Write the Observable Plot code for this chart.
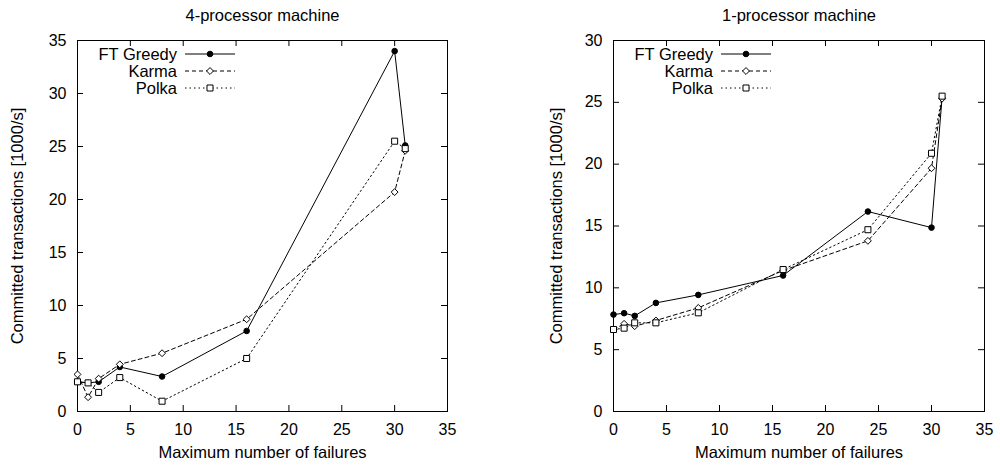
<!DOCTYPE html>
<html>
<head>
<meta charset="utf-8">
<script src="https://cdn.jsdelivr.net/npm/d3@7"></script>
<script src="https://cdn.jsdelivr.net/npm/@observablehq/plot@0.6"></script>
<style>
  html, body { margin: 0; padding: 0; background: #fff; }
  #wrap { position: relative; width: 1000px; height: 468px; }
  .panel { position: absolute; top: 0; }
</style>
</head>
<body>
<div id="wrap">
  <div id="left" class="panel" style="left:0"></div>
  <div id="right" class="panel" style="left:500px"></div>
</div>
<script>
// ---- data ----
const seriesNames = ["FT Greedy", "Karma", "Polka"];
const xTicks = [0, 5, 10, 15, 20, 25, 30, 35];
const yTicks4 = [0, 5, 10, 15, 20, 25, 30, 35];
const yTicks1 = [0, 5, 10, 15, 20, 25, 30];

const titles = ["4-processor machine", "1-processor machine"];
const xLabel = "Maximum number of failures";
const yLabel = "Committed transactions [1000/s]";

// 4-processor machine
const failures4 = [0, 1, 2, 4, 8, 16, 30, 31];
const ftGreedy4 = [2.8, 2.7, 2.8, 4.2, 3.3, 7.6, 34.0, 25.1];
const karma4    = [3.5, 1.35, 3.1, 4.45, 5.5, 8.7, 20.7, 24.6];
const polka4    = [2.8, 2.7, 1.8, 3.2, 0.97, 5.0, 25.5, 24.8];

// 1-processor machine
const failures1 = [0, 1, 2, 4, 8, 16, 24, 30, 31];
const ftGreedy1 = [7.84, 7.95, 7.73, 8.78, 9.43, 11.0, 16.17, 14.87, 25.4];
const karma1    = [6.63, 7.09, 6.9, 7.36, 8.38, 11.4, 13.8, 19.67, 25.3];
const polka1    = [6.63, 6.74, 7.17, 7.17, 7.98, 11.48, 14.7, 20.88, 25.5];

// ---- styles per series ----
const dashes = [null, "4,3", "1.5,3"];
const symbols = ["circle", "diamond2", "square"];
const symbolR = [2.8, 3.1, 3.4];
const symbolFill = ["black", "white", "white"];
const d3Symbols = [d3.symbolCircle, d3.symbolDiamond2, d3.symbolSquare];

const FONT = "'Liberation Sans', Arial, Helvetica, sans-serif";

function table(xs, ys) { return xs.map((x, i) => ({x, y: ys[i]})); }

function panel({title, xs, series, yTicks, yMax, marginLeft, marginRight, yLabelDx}) {
  const W = 500, H = 468, mt = 40, mb = 57;
  const frameH = H - mt - mb;
  const frameW = W - marginLeft - marginRight;
  const tick = 6;
  const marks = [
    Plot.frame({stroke: "black", strokeWidth: 1}),
    // inward ticks on all four sides
    Plot.tickX(xTicks, {x: d => d, insetTop: frameH - tick, stroke: "black"}),
    Plot.tickX(xTicks, {x: d => d, insetBottom: frameH - tick, stroke: "black"}),
    Plot.tickY(yTicks, {y: d => d, insetRight: frameW - tick, stroke: "black"}),
    Plot.tickY(yTicks, {y: d => d, insetLeft: frameW - tick, stroke: "black"}),
    Plot.axisX({ticks: xTicks, tickSize: 0, tickPadding: 12, label: null, tickFormat: d => String(d)}),
    Plot.axisY({ticks: yTicks, tickSize: 0, tickPadding: 11, label: null, tickFormat: d => String(d)}),
    Plot.text([title], {frameAnchor: "top", text: d => d, dy: -25, fontSize: 16.5,
      textAnchor: "middle", lineAnchor: "middle"}),
    Plot.text([xLabel], {frameAnchor: "bottom", text: d => d, dy: 41, fontSize: 16.5,
      textAnchor: "middle", lineAnchor: "middle"}),
    Plot.text([yLabel], {frameAnchor: "left", text: d => d, rotate: -90, dx: yLabelDx, fontSize: 16.5,
      textAnchor: "middle", lineAnchor: "middle"})
  ];
  series.forEach((ys, i) => {
    const data = table(xs, ys);
    marks.push(Plot.line(data, {x: "x", y: "y", stroke: "black", strokeWidth: 1,
      strokeDasharray: dashes[i] || undefined}));
  });
  series.forEach((ys, i) => {
    const data = table(xs, ys);
    marks.push(Plot.dot(data, {x: "x", y: "y", symbol: symbols[i], r: symbolR[i],
      fill: symbolFill[i], stroke: "black", strokeWidth: 1}));
  });
  const svg = Plot.plot({
    width: W, height: H,
    marginLeft, marginRight, marginTop: mt, marginBottom: mb,
    style: {fontFamily: FONT, fontSize: "16px", color: "black", background: "white"},
    x: {domain: [0, 35]},
    y: {domain: [0, yMax]},
    marks
  });
  // in-plot legend (gnuplot style: label, line sample, marker)
  const g = d3.select(svg).append("g").attr("font-family", FONT).attr("font-size", 16.5);
  seriesNames.forEach((name, i) => {
    const y = mt + 14 + 17 * i;
    const x0 = marginLeft + 100;
    g.append("text").attr("x", x0).attr("y", y).attr("dy", "0.35em")
      .attr("text-anchor", "end").attr("fill", "black").text(name);
    const ln = g.append("line").attr("x1", x0 + 8).attr("x2", x0 + 58)
      .attr("y1", y).attr("y2", y).attr("stroke", "black").attr("stroke-width", 1);
    if (dashes[i]) ln.attr("stroke-dasharray", dashes[i]);
    g.append("path").attr("transform", `translate(${x0 + 33},${y})`)
      .attr("d", d3.symbol(d3Symbols[i], Math.PI * symbolR[i] * symbolR[i])())
      .attr("fill", symbolFill[i]).attr("stroke", "black").attr("stroke-width", 1);
  });
  return svg;
}

document.getElementById("left").appendChild(panel({
  title: titles[0], xs: failures4, series: [ftGreedy4, karma4, polka4],
  yTicks: yTicks4, yMax: 35, marginLeft: 77, marginRight: 53, yLabelDx: -60
}));
document.getElementById("right").appendChild(panel({
  title: titles[1], xs: failures1, series: [ftGreedy1, karma1, polka1],
  yTicks: yTicks1, yMax: 30, marginLeft: 113, marginRight: 16, yLabelDx: -57
}));
</script>
</body>
</html>
